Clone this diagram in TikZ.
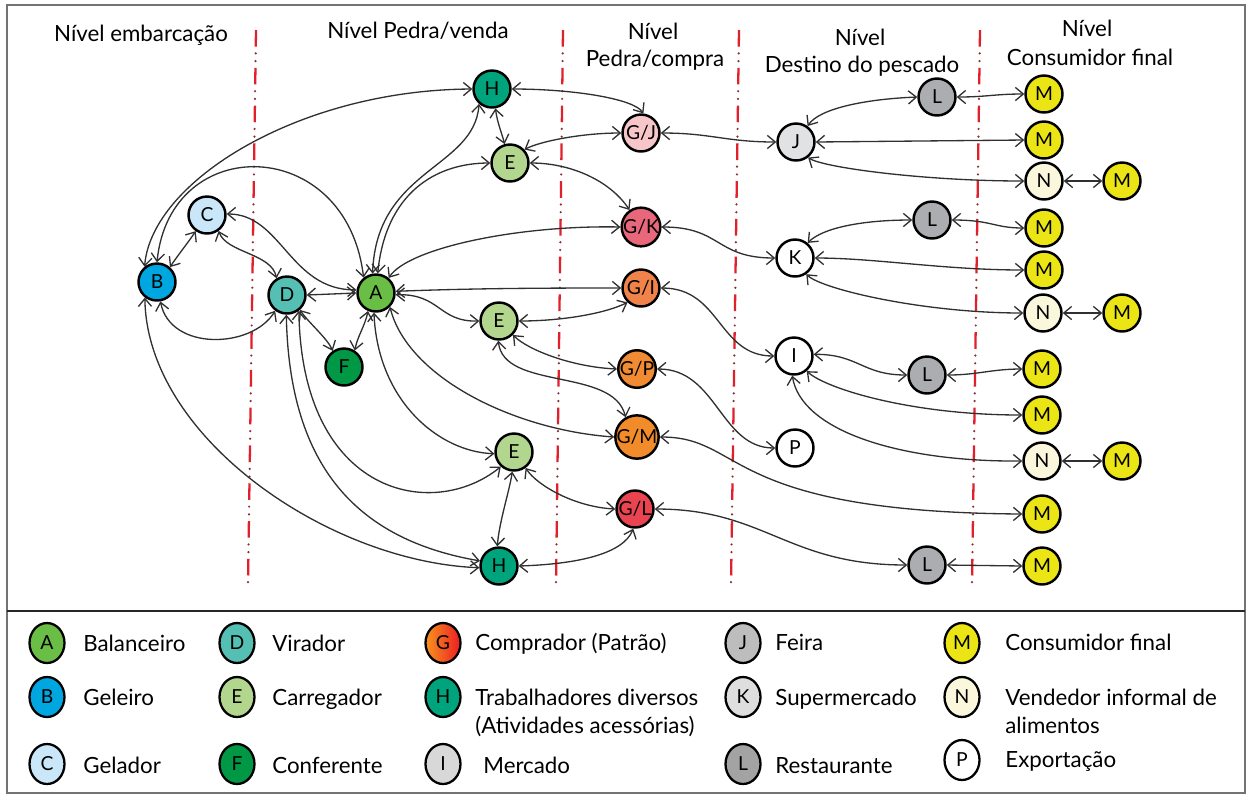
\documentclass[tikz,border=0pt]{standalone}
\usepackage{fontspec}
\setmainfont{Lato}
\usetikzlibrary{arrows.meta,shapes.geometric}
\definecolor{cA}{HTML}{6ABD45}
\definecolor{cB}{HTML}{00A6DF}
\definecolor{cC}{HTML}{C9E7F8}
\definecolor{cD}{HTML}{54BFB2}
\definecolor{cE}{HTML}{B3D68E}
\definecolor{cF}{HTML}{009844}
\definecolor{cH}{HTML}{00A47C}
\definecolor{cGJ}{HTML}{F7C6C8}
\definecolor{cGK}{HTML}{E8677A}
\definecolor{cGI}{HTML}{F0834A}
\definecolor{cGP}{HTML}{F18B33}
\definecolor{cGM}{HTML}{F28C2A}
\definecolor{cGL}{HTML}{EA4450}
\definecolor{cJ}{HTML}{E1E2E4}
\definecolor{cL}{HTML}{ABADB0}
\definecolor{cM}{HTML}{EBE516}
\definecolor{cN}{HTML}{FAF7DC}
\definecolor{lI}{HTML}{D8D8D8}
\definecolor{lJ}{HTML}{BDBDBD}
\definecolor{lK}{HTML}{DEDEDE}
\definecolor{lL}{HTML}{A3A3A3}
\definecolor{gor}{HTML}{F7941D}
\definecolor{gre}{HTML}{ED1C24}
\definecolor{sepred}{HTML}{E0202A}
\definecolor{sepdot}{HTML}{8B2E33}
\definecolor{edgec}{HTML}{303030}
\tikzset{
  nd/.style={circle, draw=black, line width=1.4pt, minimum size=0.74cm, inner sep=0pt, font=\fontsize{11}{12}\selectfont},
  lg/.style={ellipse, draw=black, line width=1.3pt, minimum width=0.70cm, minimum height=0.80cm, inner sep=0pt, font=\fontsize{11}{12}\selectfont},
  lt/.style={anchor=base west, inner sep=0pt, font=\fontsize{12.7}{15}\selectfont},
  ttl/.style={inner sep=0pt, font=\fontsize{12.7}{15}\selectfont},
  ed/.style={{Straight Barb[length=4.5pt,width=7.5pt]}-{Straight Barb[length=4.5pt,width=7.5pt]}, draw=edgec, line width=0.75pt},
  sepr/.style={draw=sepred, line width=1.3pt, dash pattern=on 9.5pt off 12pt},
  sepd/.style={draw=sepdot, line width=1.4pt, line cap=round, dash pattern=on 0pt off 4.4pt on 0pt off 17.1pt, dash phase=8.2pt}
}
\begin{document}
\begin{tikzpicture}[x=0.02cm,y=-0.02cm]
\useasboundingbox (0,0) rectangle (1247,796);
% frame
\draw[draw=black!55, line width=1.3pt] (7,5) rectangle (1245,793);
\draw[draw=black!85, line width=0.9pt] (7,611) -- (1245,611);
% separators
\foreach \xa/\xb in {256/248, 563/556, 739/731, 980/972}{
  \draw[sepr] (\xa,30) -- (\xb,585);
  \draw[sepd] (\xa,30) -- (\xb,585);
}
% titles
\node[ttl] (t1) at (141,35) {Nível embarcação};
\node[ttl] (t2) at (418,31) {Nível Pedra/venda};
\node[ttl] (t3a) at (653,31) {Nível};
\node[ttl] (t3b) at (655,60) {Pedra/compra};
\node[ttl] (t4a) at (860,37) {Nível};
\node[ttl] (t4b) at (862,66) {Destino do pescado};
\node[ttl] (t5a) at (1087,28) {Nível};
\node[ttl] (t5b) at (1090,57) {Consumidor final};
% nodes
\node[nd,fill=cH] (H1) at (492,89) {H};
\node[nd,fill=cGJ] (GJ) at (641,133) {G/J};
\node[nd,fill=cE] (E1) at (510,163) {E};
\node[nd,fill=cC] (C) at (207,215) {C};
\node[nd,fill=cGK] (GK) at (641,227) {G/K};
\node[nd,fill=cB] (B) at (157,282) {B};
\node[nd,fill=cD] (D) at (287,295) {D};
\node[nd,fill=cA] (A) at (376,293) {A};
\node[nd,fill=cGI] (GI) at (641,288) {G/I};
\node[nd,fill=cE] (E2) at (499,321) {E};
\node[nd,fill=cF] (F) at (344,367) {F};
\node[nd,fill=cGP] (GP) at (637,369) {G/P};
\node[nd,fill=cGM] (GM) at (637,437) {G/M};
\node[nd,fill=cE] (E3) at (514,452) {E};
\node[nd,fill=cGL] (GL) at (635,509) {G/L};
\node[nd,fill=cH] (H2) at (499,566) {H};
\node[nd,fill=cJ] (J) at (796,142) {J};
\node[nd,fill=white] (K) at (795,258) {K};
\node[nd,fill=white] (I) at (794,356) {I};
\node[nd,fill=white] (P) at (795,448) {P};
\node[nd,fill=cL] (L1) at (937,97) {L};
\node[nd,fill=cL] (L2) at (932,220) {L};
\node[nd,fill=cL] (L3) at (927,375) {L};
\node[nd,fill=cL] (L4) at (927,565) {L};
\node[nd,fill=cM] (M1) at (1044,94) {M};
\node[nd,fill=cM] (M2) at (1044,140) {M};
\node[nd,fill=cN] (N1) at (1044,181) {N};
\node[nd,fill=cM] (Mn1) at (1122,181) {M};
\node[nd,fill=cM] (M3) at (1044,228) {M};
\node[nd,fill=cM] (M4) at (1044,270) {M};
\node[nd,fill=cN] (N2) at (1043,313) {N};
\node[nd,fill=cM] (Mn2) at (1122,313) {M};
\node[nd,fill=cM] (M5) at (1042,369) {M};
\node[nd,fill=cM] (M6) at (1042,415) {M};
\node[nd,fill=cN] (N3) at (1042,461) {N};
\node[nd,fill=cM] (Mn3) at (1122,461) {M};
\node[nd,fill=cM] (M7) at (1042,514) {M};
\node[nd,fill=cM] (M8) at (1042,566) {M};
% edges
\draw[ed] (B.129) .. controls +(7,-85) and +(-174,1) .. (H1.180);
\draw[ed] (B.90) .. controls +(13,-131) and +(-17,-143) .. (A.129);
\draw[ed] (B.49) .. controls +(8,-12) and +(-8,12) .. (C.235);
\draw[ed] (C.3) .. controls +(55,0) and +(-67,0) .. (A.171);
\draw[ed] (C.306) .. controls +(8,22) and +(-5,-25) .. (D.122);
\draw[ed] (B.280) .. controls +(10,50) and +(-23,38) .. (D.233);
\draw[ed] (B.232) .. controls +(2,140) and +(-151,-6) .. (H2.185);
\draw[ed] (D.0) -- (A.180);
\draw[ed] (D.311) .. controls +(8,12) and +(-5,-12) .. (F.125);
\draw[ed] (A.246) .. controls +(-3,15) and +(3,-15) .. (F.57);
\draw[ed] (D.268) .. controls +(3,154) and +(-121,-21) .. (H2.165);
\draw[ed] (D.307) .. controls +(3,185) and +(-68,55) .. (E3.228);
\draw[ed] (A.264) .. controls +(4,89) and +(-55,-2) .. (E3.185);
\draw[ed] (A.315) .. controls +(18,71) and +(-99,-7) .. (GM.180);
\draw[ed] (A.100) .. controls +(4,-105) and +(-5,65) .. (H1.229);
\draw[ed] (A.85) .. controls +(8,-80) and +(-55,0) .. (E1.180);
\draw[ed] (A.50) .. controls +(20,-30) and +(-102,-2) .. (GK.180);
\draw[ed] (A.5) .. controls +(80,-3) and +(-80,0) .. (GI.180);
\draw[ed] (A.355) .. controls +(45,-1) and +(-41,1) .. (E2.180);
\draw[ed] (H1.280) .. controls +(2,15) and +(-3,-12) .. (E1.106);
\draw[ed] (H1.0) .. controls +(60,0) and +(-10,-15) .. (GJ.83);
\draw[ed] (E1.43) .. controls +(15,-8) and +(-40,0) .. (GJ.180);
\draw[ed] (E1.0) .. controls +(40,0) and +(-20,-30) .. (GK.124);
\draw[ed] (E2.0) .. controls +(40,0) and +(-25,12) .. (GI.227);
\draw[ed] (E2.315) .. controls +(15,15) and +(-45,-2) .. (GP.180);
\draw[ed] (E2.268) .. controls +(5,50) and +(-12,-50) .. (GM.120);
\draw[ed] (E3.265) .. controls +(-3,20) and +(2,-25) .. (H2.95);
\draw[ed] (E3.306) .. controls +(12,18) and +(-40,-2) .. (GL.180);
\draw[ed] (H2.0) .. controls +(60,-2) and +(-10,25) .. (GL.265);
\draw[ed] (GJ.0) .. controls +(50,0) and +(-50,0) .. (J.180);
\draw[ed] (GK.0) .. controls +(60,0) and +(-60,0) .. (K.180);
\draw[ed] (GI.0) .. controls +(60,0) and +(-56,0) .. (I.180);
\draw[ed] (GP.0) .. controls +(60,0) and +(-55,0) .. (P.180);
\draw[ed] (GM.0) .. controls +(85,0) and +(-300,-2) .. (M7.180);
\draw[ed] (GL.0) .. controls +(110,0) and +(-120,0) .. (L4.180);
\draw[ed] (J.54) .. controls +(12,-18) and +(-50,2) .. (L1.180);
\draw[ed] (J.0) -- (M2.180);
\draw[ed] (J.308) .. controls +(15,10) and +(-100,0) .. (N1.180);
\draw[ed] (L1.0) .. controls +(30,0) and +(-30,0) .. (M1.180);
\draw[ed] (N1.0) -- (Mn1.180);
\draw[ed] (K.50) .. controls +(15,-15) and +(-50,0) .. (L2.180);
\draw[ed] (K.0) .. controls +(60,0) and +(-80,0) .. (M4.180);
\draw[ed] (K.305) .. controls +(15,15) and +(-100,0) .. (N2.180);
\draw[ed] (L2.0) .. controls +(40,0) and +(-30,0) .. (M3.180);
\draw[ed] (N2.0) -- (Mn2.180);
\draw[ed] (I.5) .. controls +(45,0) and +(-45,0) .. (L3.180);
\draw[ed] (I.310) .. controls +(20,18) and +(-110,0) .. (M6.180);
\draw[ed] (I.265) .. controls +(9,55) and +(-123,1) .. (N3.180);
\draw[ed] (L3.0) .. controls +(30,0) and +(-30,0) .. (M5.180);
\draw[ed] (N3.0) -- (Mn3.180);
\draw[ed] (L4.0) -- (M8.180);
% legend
\node[lg,fill=cA] (lgA) at (47,643) {A};
\node[lt] (ltA) at (83,651) {Balanceiro};
\node[lg,fill=cB] (lgB) at (47,697) {B};
\node[lt] (ltB) at (83,705) {Geleiro};
\node[lg,fill=cC] (lgC) at (47,764) {C};
\node[lt] (ltC) at (83,773) {Gelador};
\node[lg,fill=cD] (lgD) at (237,643) {D};
\node[lt] (ltD) at (272,651) {Virador};
\node[lg,fill=cE] (lgE) at (237,697) {E};
\node[lt] (ltE) at (272,705) {Carregador};
\node[lg,fill=cF] (lgF) at (237,764) {F};
\node[lt] (ltF) at (272,773) {Conferente};
\node[lg,left color=gor,right color=gre] (lgG) at (443,643) {G};
\node[lt] (ltG) at (475,650) {Comprador (Patrão)};
\node[lg,fill=cH] (lgH) at (443,697) {H};
\node[lt] (ltH) at (475,705) {Trabalhadores diversos};
\node[lt] (ltH2) at (475,733) {(Atividades acessórias)};
\node[lg,fill=lI] (lgI) at (443,764) {I};
\node[lt] (ltI) at (483,773) {Mercado};
\node[lg,fill=lJ] (lgJ) at (743,643) {J};
\node[lt] (ltJ) at (775,650) {Feira};
\node[lg,fill=lK] (lgK) at (743,697) {K};
\node[lt] (ltK) at (775,705) {Supermercado};
\node[lg,fill=lL] (lgL) at (743,764) {L};
\node[lt] (ltL) at (775,773) {Restaurante};
\node[lg,fill=cM] (lgM) at (962,643) {M};
\node[lt] (ltM) at (1005,650) {Consumidor final};
\node[lg,fill=cN] (lgN) at (962,697) {N};
\node[lt] (ltN) at (1005,705) {Vendedor informal de};
\node[lt] (ltN2) at (1005,733) {alimentos};
\node[lg,fill=white] (lgP) at (962,760) {P};
\node[lt] (ltP) at (1005,767) {Exportação};
\end{tikzpicture}
\end{document}
